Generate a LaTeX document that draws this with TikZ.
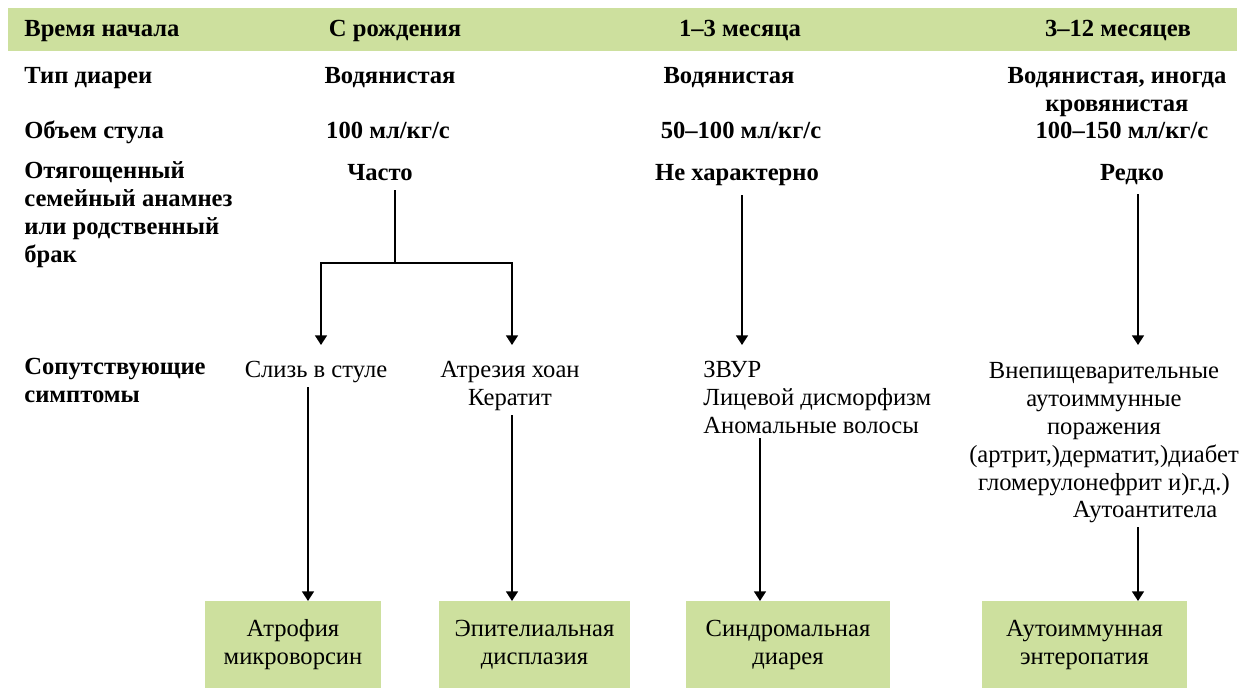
\documentclass[tikz,border=0pt]{standalone}
\usepackage{fontspec}
\setmainfont{Liberation Serif}
\usetikzlibrary{arrows.meta, positioning}
\definecolor{headgreen}{RGB}{205, 224, 158}

\begin{document}
\begin{tikzpicture}[
  x=0.02cm, y=-0.02cm,
  every node/.style={inner sep=0pt, font=\fontsize{14}{16}\selectfont},
  rowlbl/.style={anchor=base west, align=left, font=\fontsize{14}{16}\selectfont\bfseries},
  cell/.style={anchor=base, align=center, font=\fontsize{14}{16}\selectfont\bfseries},
  symp/.style={anchor=base, align=center},
  resbox/.style={anchor=north, fill=headgreen, align=center, minimum height=1.74cm},
  link/.style={line width=1pt},
  arr/.style={link, -{Triangle[length=5.5pt, width=6.8pt]}}
]
  \useasboundingbox (0,0) rectangle (1245,688);
  \fill[headgreen] (8,8) rectangle (1237,51);

  % row labels (base = last line)
  \node[rowlbl] (lstart) at (24,37) {Время начала};
  \node[rowlbl] (ltype) at (24,84) {Тип диареи};
  \node[rowlbl] (lvol) at (24,139) {Объем стула};
  \node[rowlbl] (lfam) at (24,263) {Отягощенный\\семейный анамнез\\или родственный\\брак};
  \node[rowlbl] (lsym) at (24,403) {Сопутствующие\\симптомы};

  % header
  \node[cell] (hbirth) at (395,37) {С рождения};
  \node[cell] (hmonth) at (740,37) {1–3 месяца};
  \node[cell] (hyear) at (1118,37) {3–12 месяцев};

  % type, volume, family
  \node[cell] (tbirth) at (390,84) {Водянистая};
  \node[cell] (tmonth) at (729,84) {Водянистая};
  \node[cell] (tyear) at (1117,112) {Водянистая,\ иногда\\кровянистая};
  \node[cell] (vbirth) at (388,139) {100 мл/кг/с};
  \node[cell] (vmonth) at (741,139) {50–100 мл/кг/с};
  \node[cell] (vyear) at (1122,139) {100–150 мл/кг/с};
  \node[cell] (often) at (380,181) {Часто};
  \node[cell] (nochar) at (737,181) {Не характерно};
  \node[cell] (rarely) at (1132,181) {Редко};

  % symptoms
  \node[symp] (mucus) at (316,378) {Слизь в стуле};
  \node[symp] (atresia) at (510,406) {Атрезия хоан\\Кератит};
  \node[symp, anchor=base west, align=left] (syndr) at (703,434) {ЗВУР\\Лицевой дисморфизм\\Аномальные волосы};
  \node[symp] (extra) at (1104,491) {Внепищеварительные\\аутоиммунные\\поражения\\(артрит,)дерматит,)диабет\\гломерулонефрит и)г.д.)};
  \node[symp] (autoab) at (1145,518) {Аутоантитела};

  % results
  \node[resbox, minimum width=3.52cm] (atrophy) at (293,601) {Атрофия\\микроворсин};
  \node[resbox, minimum width=3.82cm] (dysplas) at (534.5,601) {Эпителиальная\\дисплазия};
  \node[resbox, minimum width=4.08cm] (syndiar) at (788,601) {Синдромальная\\диарея};
  \node[resbox, minimum width=4.1cm] (autoent) at (1084.5,601) {Аутоиммунная\\энтеропатия};

  % upper connectors
  \coordinate (fork) at (395,263);
  \coordinate (mucusin) at (321,345);
  \coordinate (atresiain) at (512,345);
  \coordinate (syndrin) at (742,345);
  \coordinate (extrain) at (1138,345);
  \draw[link, shorten <=5pt] (often.south -| fork) -- (fork);
  \draw[arr] (fork) -| (mucusin);
  \draw[arr] (fork) -| (atresiain);
  \draw[arr, shorten <=5pt] (nochar.south -| syndrin) -- (syndrin);
  \draw[arr, shorten <=5pt] (rarely.south -| extrain) -- (extrain);

  % lower connectors
  \coordinate (d1) at (308,0);
  \coordinate (d2) at (512,0);
  \coordinate (d3) at (760,0);
  \coordinate (d4) at (1138,0);
  \draw[arr, shorten <=2pt] (d1 |- mucus.south) -- (d1 |- atrophy.north);
  \draw[arr, shorten <=2pt] (d2 |- atresia.south) -- (d2 |- dysplas.north);
  \draw[arr, shorten <=2pt] (d3 |- syndr.south) -- (d3 |- syndiar.north);
  \draw[arr, shorten <=2pt] (d4 |- autoab.south) -- (d4 |- autoent.north);
\end{tikzpicture}
\end{document}
